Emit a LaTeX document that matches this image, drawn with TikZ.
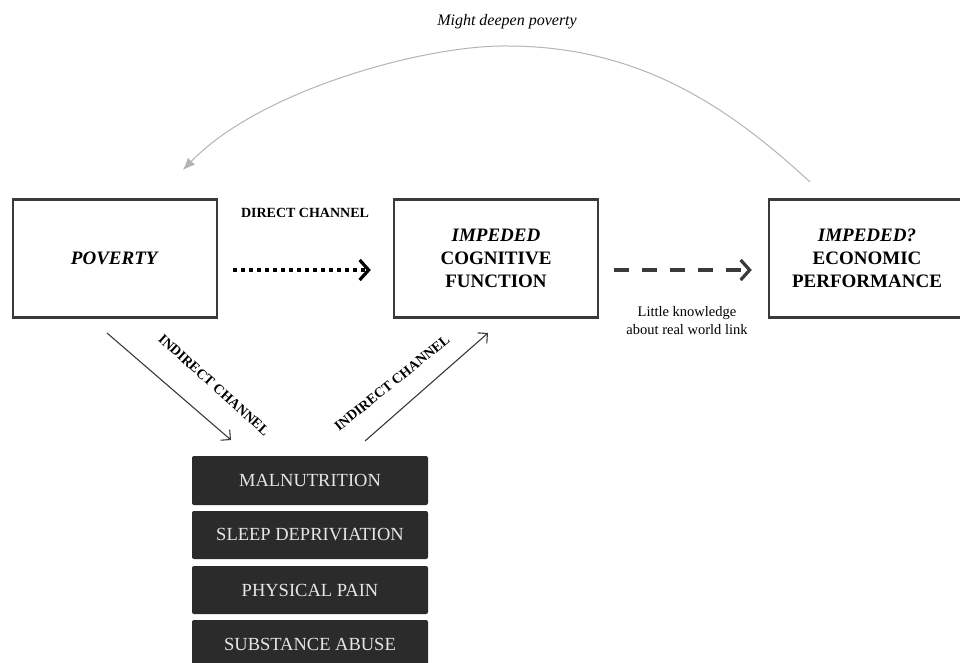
\documentclass[tikz,border=0pt]{standalone}
\usepackage{fontspec}
\setmainfont{Liberation Serif}
\usetikzlibrary{arrows.meta}
\definecolor{boxline}{HTML}{3A3A3A}
\definecolor{darkfill}{HTML}{2B2B2B}
\definecolor{lighttext}{HTML}{E6E6E6}
\definecolor{curvegray}{HTML}{B4B4B4}
\definecolor{arrowgray}{HTML}{3A3A3A}
\begin{document}
\begin{tikzpicture}[x=1pt,y=-1pt,
  mainbox/.style={draw=boxline, line width=2.4pt, minimum height=118pt, inner sep=0pt, align=center,
    font=\fontsize{19}{23}\selectfont\bfseries},
  darkbox/.style={fill=darkfill, draw=none, rounded corners=2pt, minimum width=236pt, minimum height=48pt,
    inner sep=0pt, text=lighttext, font=\fontsize{18.5}{22}\selectfont},
  chanlabel/.style={font=\fontsize{14}{16}\selectfont\bfseries, inner sep=0pt},
  dotarrow/.style={line width=3.2pt, dash pattern=on 3.5pt off 4.5pt, draw=black,
    -{Straight Barb[length=9pt,width=20pt,line width=3.2pt]}},
  dasharrow/.style={line width=3.5pt, dash pattern=on 15pt off 13pt, draw=boxline,
    -{Straight Barb[length=9pt,width=20pt,line width=3.2pt]}},
  thinarrow/.style={line width=1.1pt, draw=arrowgray, -{Straight Barb[length=7pt,width=14pt,line width=1.1pt]}},
  curvearrow/.style={line width=1pt, draw=curvegray, -{Latex[length=12pt,width=10pt]}}
]
\fill[white] (0,0) rectangle (960,663);
\useasboundingbox (0,0) rectangle (960,663);

% main boxes
\node[mainbox, minimum width=204pt] (pov) at (115,258.5) {\textit{POVERTY}};
\node[mainbox, minimum width=204pt] (cog) at (496,258.5) {\textit{IMPEDED}\\COGNITIVE\\FUNCTION};
\node[mainbox, minimum width=196pt] (eco) at (867,258.5) {\textit{IMPEDED?}\\ECONOMIC\\PERFORMANCE};

% labels
\node[chanlabel] (direct) at (305,213) {DIRECT CHANNEL};
\node[align=center, inner sep=0pt, font=\fontsize{14.5}{18}\selectfont] (little) at (687,321) {Little knowledge\\about real world link};
\node[inner sep=0pt, font=\fontsize{16}{18}\selectfont\itshape] (might) at (507,22) {Might deepen poverty};

% direct and dashed arrows
\draw[dotarrow] ([xshift=15pt,yshift=-11.5pt]pov.east) -- ([xshift=-22pt,yshift=-11.5pt]cog.west);
\draw[dasharrow] ([xshift=15pt,yshift=-11.5pt]cog.east) -- ([xshift=-16pt,yshift=-11.5pt]eco.west);

% dark boxes
\node[darkbox, minimum height=49pt] (mal) at (310,480.5) {MALNUTRITION};
\node[darkbox] (sleep) at (310,535) {SLEEP DEPRIVIATION};
\node[darkbox] (pain) at (310,590) {PHYSICAL PAIN};
\node[darkbox, minimum height=49pt] (subst) at (310,644.5) {SUBSTANCE ABUSE};

% indirect channels
\coordinate (i1s) at (107,333);
\coordinate (i1e) at (231,440);
\coordinate (i2s) at (365,441);
\coordinate (i2e) at (488,333);
\draw[thinarrow] (i1s) -- (i1e);
\draw[thinarrow] (i2s) -- (i2e);
\node[chanlabel, rotate=-42] (ind1) at (214,385) {INDIRECT CHANNEL};
\node[chanlabel, rotate=39] (ind2) at (392,383) {INDIRECT CHANNEL};

% feedback curve
\coordinate (cs) at (810,182);
\coordinate (ctop) at (507,46);
\coordinate (ce) at (183,170);
\draw[curvearrow] (cs) .. controls (730,108) and (640,46) .. (ctop)
  .. controls (425,45) and (260,90) .. (ce);
\end{tikzpicture}
\end{document}
